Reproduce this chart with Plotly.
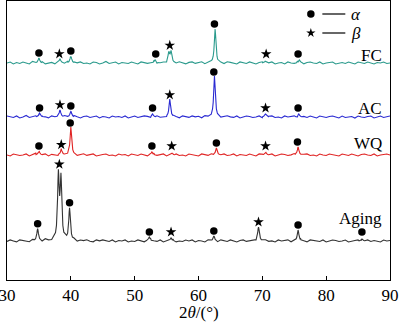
import numpy as np
import plotly.graph_objects as go

# ---------------- data ----------------
two_theta_grid = np.round(np.arange(30, 90.001, 0.5), 2)

series_names = ["FC", "AC", "WQ", "Aging"]

fc_peak_pos = [35.0, 38.3, 40.0, 53.2, 55.35, 55.7, 62.6, 70.5, 75.8]
fc_peak_int = [5, 4, 7, 3, 10, 11, 34, 2, 3]
ac_peak_pos = [35.1, 38.3, 40.0, 52.8, 55.5, 62.5, 70.5, 75.7]
ac_peak_int = [4, 7, 6, 3, 17, 40, 3, 3]
wq_peak_pos = [35.0, 38.5, 40.0, 52.7, 55.8, 62.8, 70.5, 75.6]
wq_peak_int = [4, 5, 27, 3, 2, 7, 3, 8]
aging_peak_pos = [34.8, 38.05, 38.45, 39.8, 52.3, 55.7, 62.4, 69.4, 75.6, 85.6]
aging_peak_int = [12, 64, 60, 32, 4, 3, 5, 14, 11, 2]

fc_noise = [0,1,-1,0.5,-0.5,1,0,-1,1.5,-0.5,
            0,1,-1,0,0.5,-1,1,0,-0.5,1,
            -1,0.5,0,1,-0.5,0,-1,1,0.5,-1,
            0,1.5,-0.5,0,1,-1,0.5,0,-0.5,1,
            0,-1,1,0.5,-0.5,0,1,-1,0,0.5,
            -1,1,0,-0.5,1,0,-1,0.5,1,-0.5,
            0,1,-1,0,0.5,1,-0.5,0,-1,1,
            0.5,0,-1,1,0,-0.5,1,0,-1,0.5,
            1,-0.5,0,1,-1,0,0.5,-1,1,0,
            -0.5,1,0,-1,0.5,1,0,-0.5,1,-1,
            0,0.5,1,-1,0,0.5,-0.5,1,0,-1,
            1,0,-0.5,1,0,-1,0.5,0,1,-0.5,
            0]
ac_noise = [1,0,-0.5,1,-1,0,1.5,-0.5,0,1,
            -1,0.5,0,-1,1,0,0.5,-1,1,0,
            -0.5,1,0,-1,0.5,1,-0.5,0,1,-1,
            0.5,0,-1,1,0,0.5,-0.5,1,-1,0,
            1,-0.5,0,1,0.5,-1,0,1,-0.5,0,
            -1,1,0.5,0,-1,1,0,-0.5,1,0,
            0.5,-1,1,0,-0.5,1,0,-1,0.5,1,
            0,-0.5,1,-1,0,1,0.5,-0.5,0,1,
            -1,0,0.5,1,-0.5,0,-1,1,0,0.5,
            1,-1,0,0.5,-0.5,1,0,-1,1,0,
            -0.5,0.5,1,0,-1,1,-0.5,0,0.5,-1,
            1,0,-0.5,0.5,1,-1,0,1,-0.5,0,
            1]
wq_noise = [0,-1,1,0.5,-0.5,0,1,-1,0,1.5,
            -0.5,0,1,-1,0.5,0,-1,1,0,-0.5,
            1,0,-1,0.5,1,-0.5,0,1,-1,0,
            0.5,1,-0.5,0,-1,1,0,0.5,-1,1,
            0,-0.5,1,0,-1,0.5,1,-0.5,0,1,
            -1,0,0.5,1,-0.5,0,-1,1,0.5,0,
            -1,1,0,-0.5,1,0.5,-1,0,1,-0.5,
            0,1,-1,0.5,0,-0.5,1,0,-1,1,
            0.5,-0.5,0,1,-1,0,1,0.5,-0.5,0,
            1,-1,0,0.5,1,-0.5,0,-1,1,0,
            -0.5,1,0.5,0,-1,1,0,-0.5,1,0,
            -1,0.5,1,0,-0.5,1,-1,0,0.5,1,
            0]
aging_noise = [-0.5,1,0,-1,1,0.5,0,-1,1,0,
               0.5,-1,1.5,0,-0.5,1,-1,0,1,-0.5,
               0,1,-1,0.5,0,1,-0.5,-1,1,0,
               1,0,-0.5,1,-1,0.5,0,1,-1,0,
               -0.5,1,0,-1,0.5,1,0,-0.5,1,-1,
               0,0.5,1,-1,0,-0.5,1,0,1,-1,
               0.5,0,-1,1,0,0.5,-1,1,0,-0.5,
               1,0,-1,0.5,1,-0.5,0,1,-1,0,
               0.5,1,-0.5,0,-1,1,0,0.5,1,-1,
               0,-0.5,1,0,-1,1,0.5,0,-0.5,1,
               -1,0,1,0.5,-0.5,0,1,-1,0,0.5,
               1,-1,0,1,-0.5,0.5,0,-1,1,0,
               0.5]

# phase markers: (2theta, phase)
fc_marks = [(35.0, "a"), (38.2, "b"), (40.0, "a"), (53.3, "a"), (55.5, "b"),
            (62.5, "a"), (70.6, "b"), (75.6, "a")]
ac_marks = [(35.1, "a"), (38.3, "b"), (40.0, "a"), (52.8, "a"), (55.5, "b"),
            (62.4, "a"), (70.5, "b"), (75.6, "a")]
wq_marks = [(35.0, "a"), (38.5, "b"), (39.9, "a"), (52.7, "a"), (55.8, "b"),
            (62.8, "a"), (70.5, "b"), (75.5, "a")]
aging_marks = [(34.8, "a"), (38.2, "b"), (39.8, "a"), (52.3, "a"), (55.7, "b"),
               (62.4, "a"), (69.4, "b"), (75.6, "a"), (85.6, "a")]

# ---------------- styling / layout ----------------
offsets = {"FC": 217, "AC": 163, "WQ": 125, "Aging": 39}
colors = {"FC": "#2a9a8c", "AC": "#2a2ad2", "WQ": "#e02424", "Aging": "#333333"}
label_y = {"FC": 225, "AC": 172, "WQ": 137, "Aging": 62}
FONT = "Liberation Serif"
HW = 0.15  # peak half width
vertex_offsets = [-0.45, -0.3, -0.2, -0.12, -0.06, 0, 0.06, 0.12, 0.2, 0.3, 0.45]

data = {
    "FC": (fc_peak_pos, fc_peak_int, fc_noise, fc_marks),
    "AC": (ac_peak_pos, ac_peak_int, ac_noise, ac_marks),
    "WQ": (wq_peak_pos, wq_peak_int, wq_noise, wq_marks),
    "Aging": (aging_peak_pos, aging_peak_int, aging_noise, aging_marks),
}


def profile(x, pos, inten):
    x = np.asarray(x, dtype=float)
    out = np.zeros_like(x)
    for p, h in zip(pos, inten):
        out += h / (1 + ((x - p) / HW) ** 2)
    return out


fig = go.Figure()
mark_x = {"a": [], "b": []}
mark_y = {"a": [], "b": []}

for name in series_names:
    pos, inten, noise, marks = data[name]
    off = offsets[name]
    pts = {float(x): float(n) for x, n in zip(two_theta_grid, noise)}
    for p in pos:
        for d in vertex_offsets:
            xv = round(p + d, 3)
            if 30 <= xv <= 90 and xv not in pts:
                pts[xv] = 0.0
    xs = np.array(sorted(pts))
    ys = np.array([pts[x] for x in xs]) + profile(xs, pos, inten) + off
    fig.add_trace(go.Scatter(x=xs, y=ys, mode="lines",
                             line=dict(color=colors[name], width=1.1),
                             showlegend=False, hoverinfo="skip"))
    for mx, ph in marks:
        fine = np.linspace(mx - 0.3, mx + 0.3, 31)
        h = profile(fine, pos, inten).max()
        mark_x[ph].append(mx)
        mark_y[ph].append(off + max(h + 5, 9))
    fig.add_annotation(x=89.1, y=label_y[name], text=name, showarrow=False,
                       xanchor="right", yanchor="middle",
                       font=dict(family=FONT, size=17, color="black"))

fig.add_trace(go.Scatter(x=mark_x["a"], y=mark_y["a"], mode="markers",
                         marker=dict(symbol="circle", size=7.5, color="black"),
                         showlegend=False, hoverinfo="skip"))
fig.add_trace(go.Scatter(x=mark_x["b"], y=mark_y["b"], mode="markers",
                         marker=dict(symbol="star", size=8, color="black",
                                     line=dict(width=0)),
                         showlegend=False, hoverinfo="skip"))

# hand-made key
fig.add_trace(go.Scatter(x=[77.6], y=[266], mode="markers",
                         marker=dict(symbol="circle", size=7.5, color="black"),
                         showlegend=False, hoverinfo="skip"))
fig.add_trace(go.Scatter(x=[77.6], y=[247], mode="markers",
                         marker=dict(symbol="star", size=7, color="black"),
                         showlegend=False, hoverinfo="skip"))
for yy in (266, 247):
    fig.add_shape(type="line", x0=79.4, x1=83.0, y0=yy, y1=yy,
                  line=dict(color="black", width=1.2))
fig.add_annotation(x=83.5, y=266, text="<i>α</i>", showarrow=False, xanchor="left",
                   font=dict(family=FONT, size=17, color="black"))
fig.add_annotation(x=83.5, y=247, text="<i>β</i>", showarrow=False, xanchor="left",
                   font=dict(family=FONT, size=17, color="black"))

# axis title as annotation (placed below tick labels)
fig.add_annotation(x=0.5, y=-0.118, xref="paper", yref="paper",
                   text="2<i>θ</i>/(°)", showarrow=False,
                   xanchor="center", yanchor="middle",
                   font=dict(family=FONT, size=17, color="black"))

fig.update_layout(
    width=400, height=322,
    margin=dict(l=7, r=10, t=1, b=42),
    plot_bgcolor="white", paper_bgcolor="white",
    font=dict(family=FONT, size=17, color="black"),
)
fig.update_xaxes(range=[30, 90], dtick=10, tick0=30, ticks="inside", ticklen=4,
                 tickcolor="black", showline=True, mirror=True, linecolor="black",
                 linewidth=1, showgrid=False, zeroline=False,
                 ticklabeloverflow="allow", automargin=False,
                 tickfont=dict(family=FONT, size=17))
fig.update_yaxes(range=[0, 279], showticklabels=False, ticks="", showline=True,
                 mirror=True, linecolor="black", linewidth=1, showgrid=False,
                 zeroline=False)

fig.write_html("out.html")
